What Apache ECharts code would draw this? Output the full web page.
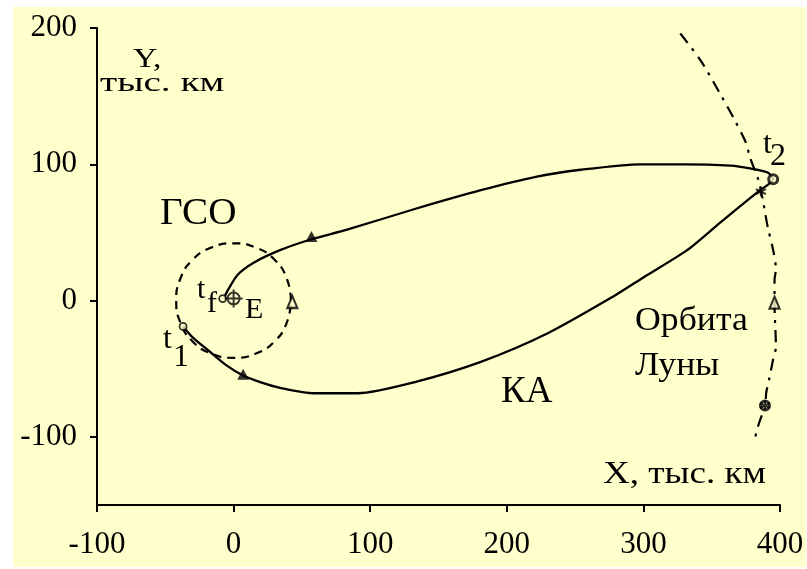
<!DOCTYPE html>
<html>
<head>
<meta charset="utf-8">
<script src="https://cdn.jsdelivr.net/npm/echarts@6/dist/echarts.min.js"></script>
<style>
  html, body { margin:0; padding:0; background:#ffffff; }
  #bg { position:absolute; left:13px; top:7px; width:793px; height:560px; background:#FFFFCC; }
  #chart { position:absolute; left:0; top:0; width:807px; height:569px; }
</style>
</head>
<body>
<div id="bg"></div>
<div id="chart"></div>
<script>
// ---- data (thousand km) ----
const xTicks = [-100, 0, 100, 200, 300, 400];
const yTicks = [-100, 0, 100, 200];

// spacecraft (КА) trajectory: t1 -> lower branch -> t2 -> upper branch -> tf
const kaPath = [
  [-37, -19], [-30, -27], [-18, -37], [-6, -47], [7, -55], [20, -60], [34, -64],
  [59, -68], [91, -68], [132, -60], [181, -45], [230, -24], [278, 3], [300, 17],
  [332, 37], [356, 57], [384, 80], [395, 89], [391, 94], [378, 97], [364, 99],
  [330, 100], [298, 100], [254, 96], [222, 91], [181, 81], [132, 67], [83, 52],
  [57, 45], [34, 37], [15, 28], [3, 19], [-4, 8], [-7, 2]
];
// geostationary orbit (ГСО)
const gsoPath = [
  [42, 0], [39, 16], [30, 30], [16, 39], [0, 42], [-16, 39], [-30, 30], [-39, 16],
  [-42, 0], [-39, -16], [-30, -30], [-16, -39], [0, -42], [16, -39], [30, -30],
  [39, -16], [42, 0]
];
// Moon orbit arc
const moonPath = [
  [327, 196], [342, 176], [356, 152], [366, 134], [375, 116], [378, 105],
  [384, 89], [387, 76], [391, 54], [395, 37], [397, 23], [396, 15], [396, -2],
  [397, -34], [395, -43], [392, -58], [390, -67], [389, -77], [384, -92], [381, -104]
];
// markers
const kaArrows = [[7, -54], [57, 47]];
const t1Point = [[-37, -19]];
const tfPoint = [[-8, 1.5]];
const earthPoint = [[0, 1.5]];
const gsoArrow = [[43, -1]];
const moonArrow = [[396, -1.5]];
const crossPoints = [[386, 80], [389, -77]];
const t2Point = [[395, 89]];
const moonEnd = [[389, -77]];

const FONT = '"Liberation Serif", "Times New Roman", serif';
const BG = '#FFFFCC';

const chart = echarts.init(document.getElementById('chart'), null, { renderer: 'canvas' });

function txt(text, x, baseline, size, sx) {
  return {
    type: 'text', z: 100, x: x, y: baseline - 0.34 * size,
    scaleX: sx || 1, originX: 0, originY: 0,
    style: { text: text, font: size + 'px ' + FONT, fill: '#000', align: 'left', verticalAlign: 'middle' }
  };
}

const option = {
  animation: false,
  backgroundColor: 'transparent',
  grid: { left: 97, right: 27, top: 28, bottom: 64, containLabel: false },
  xAxis: {
    type: 'value', min: -100, max: 400, interval: 100,
    axisLine: { onZero: false, lineStyle: { color: '#000', width: 2 } },
    axisTick: { show: true, length: 7, inside: false, lineStyle: { color: '#000', width: 2 }, customValues: xTicks },
    axisLabel: { color: '#000', fontFamily: FONT, fontSize: 31, margin: 24, customValues: xTicks },
    splitLine: { show: false }
  },
  yAxis: {
    type: 'value', min: -150, max: 200, interval: 50,
    axisLine: { onZero: false, lineStyle: { color: '#000', width: 2 } },
    axisTick: { show: true, length: 7, inside: false, lineStyle: { color: '#000', width: 2 }, customValues: yTicks },
    axisLabel: { color: '#000', fontFamily: FONT, fontSize: 31, margin: 20, customValues: yTicks },
    splitLine: { show: false }
  },
  series: [
    { name: 'ГСО', type: 'line', data: gsoPath, smooth: 0.5, symbol: 'none',
      lineStyle: { color: '#000', width: 2.2, type: [8, 6] }, z: 3 },
    { name: 'Орбита Луны', type: 'line', data: moonPath, smooth: 0.3, symbol: 'none',
      lineStyle: { color: '#000', width: 2.2, type: [12, 7, 3, 7] }, z: 3 },
    { name: 'КА', type: 'line', data: kaPath, smooth: 0.25, symbol: 'none',
      lineStyle: { color: '#000', width: 2.3 }, z: 4 },
    { type: 'scatter', data: kaArrows, symbol: 'triangle', symbolSize: [12, 11],
      itemStyle: { color: '#000' }, z: 6 },
    { type: 'scatter', data: t1Point.concat(tfPoint), symbol: 'circle', symbolSize: 7,
      itemStyle: { color: BG, borderColor: '#000', borderWidth: 1.8 }, z: 6 },
    { type: 'scatter', data: earthPoint,
      symbol: 'path://M-6,0 A6,6 0 1,1 6,0 A6,6 0 1,1 -6,0 Z M-9,0 L9,0 M0,-9 L0,9', symbolSize: 18,
      itemStyle: { color: 'transparent', borderColor: '#000', borderWidth: 2 }, z: 6 },
    { type: 'scatter', data: gsoArrow.concat(moonArrow), symbol: 'triangle', symbolSize: [10, 12],
      itemStyle: { color: BG, borderColor: '#000', borderWidth: 2.2 }, z: 6 },
    { type: 'scatter', data: t2Point.concat(moonEnd), symbol: 'circle', symbolSize: 9,
      itemStyle: { color: BG, borderColor: '#000', borderWidth: 3 }, z: 6 },
    { type: 'scatter', data: crossPoints,
      symbol: 'path://M0,-5 L0,5 M-4.33,-2.5 L4.33,2.5 M-4.33,2.5 L4.33,-2.5', symbolSize: 10,
      itemStyle: { color: 'transparent', borderColor: '#000', borderWidth: 2 }, z: 7 }
  ],
  graphic: [
    txt('Y,', 133, 69, 28, 1.2),
    txt('тыс. км', 100, 93, 28, 1.4),
    txt('ГСО', 160, 227, 38, 1.03),
    txt('t', 197, 300, 30, 1),
    txt('f', 207, 314, 30, 1),
    txt('E', 245, 320, 30, 1),
    txt('t', 163, 350, 32, 1),
    txt('1', 173, 368, 32, 1),
    txt('t', 763, 155, 32, 1),
    txt('2', 770, 167, 32, 1),
    txt('Орбита', 635, 333, 34, 1.05),
    txt('Луны', 635, 378, 34, 1.05),
    txt('КА', 501, 405, 37, 1),
    txt('X, тыс. км', 603, 485, 32, 1.16)
  ]
};
chart.setOption(option);
</script>
</body>
</html>
